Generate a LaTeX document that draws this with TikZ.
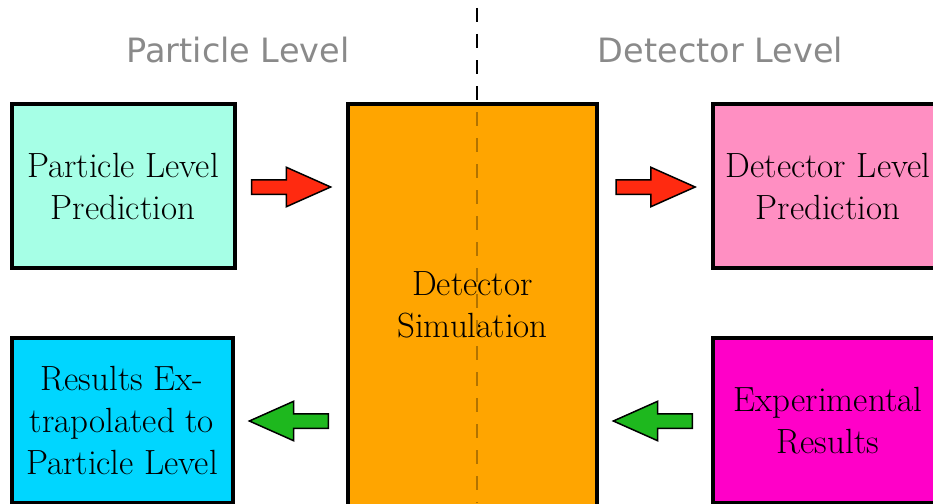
\documentclass[tikz,border=0pt]{standalone}
\usepackage{fontspec}
\newfontfamily\headfont{DejaVu Sans}
\usetikzlibrary{shapes.arrows}

\definecolor{partcol}{HTML}{A6FFE6}
\definecolor{simcol}{HTML}{FFA500}
\definecolor{detcol}{HTML}{FF8FC2}
\definecolor{rescol}{HTML}{00D6FF}
\definecolor{expcol}{HTML}{FF00C8}
\definecolor{fwdcol}{HTML}{FF2A10}
\definecolor{bwdcol}{HTML}{1EB81E}
\definecolor{headcol}{HTML}{8A8A8A}

\tikzset{
  box/.style={draw=black, line width=4pt, align=center, inner sep=0pt,
    font=\fontsize{35}{42}\selectfont},
  arr/.style={single arrow, draw=black, line width=1.5pt, inner xsep=0pt,
    inner ysep=6.5pt, minimum height=79pt, single arrow head extend=12.5pt,
    single arrow tip angle=48},
  fwdarrow/.style={arr, fill=fwdcol},
  bwdarrow/.style={arr, fill=bwdcol, shape border rotate=180},
  levelhead/.style={text=headcol, font=\headfont\fontsize{33.5}{38}\selectfont}
}

\begin{document}
\begin{tikzpicture}[x=1pt, y=-1pt]
    \useasboundingbox (0,0) rectangle (933,503);
    \coordinate (top) at (477, 8);
    \coordinate (bot) at (477, 503);
    \draw [dash pattern=on 14pt off 12pt, line width=1.5pt] (top) -- (bot);

    \node[levelhead] (hp) at (238, 50) {Particle Level};
    \node[levelhead] (hd) at (720.5, 50) {Detector Level};

    \node[box, fill=partcol, minimum width=223pt, minimum height=164pt] (plp) at (123, 186) {Particle Level\\Prediction};
    \node[box, fill=simcol, minimum width=249pt, minimum height=402pt] (sim) at (472.5, 305) {Detector\\Simulation};
    \node[box, fill=detcol, minimum width=230pt, minimum height=164pt] (dlp) at (828, 186) {Detector Level\\Prediction};
    \node[box, fill=rescol, minimum width=221pt, minimum height=165pt] (res) at (122, 420.5) {Results Ex-\\trapolated to\\Particle Level};
    \node[box, fill=expcol, minimum width=230pt, minimum height=165pt] (exp) at (828, 420.5) {Experimental\\Results};

    \draw [dash pattern=on 14pt off 12pt, line width=1.5pt, draw opacity=0.3] (top) -- (bot);

    \node[fwdarrow] (a1) at (283, 187) {};
    \node[fwdarrow] (a2) at (647.5, 187) {};
    \node[bwdarrow] (a3) at (297, 421) {};
    \node[bwdarrow] (a4) at (661, 421) {};
\end{tikzpicture}
\end{document}
